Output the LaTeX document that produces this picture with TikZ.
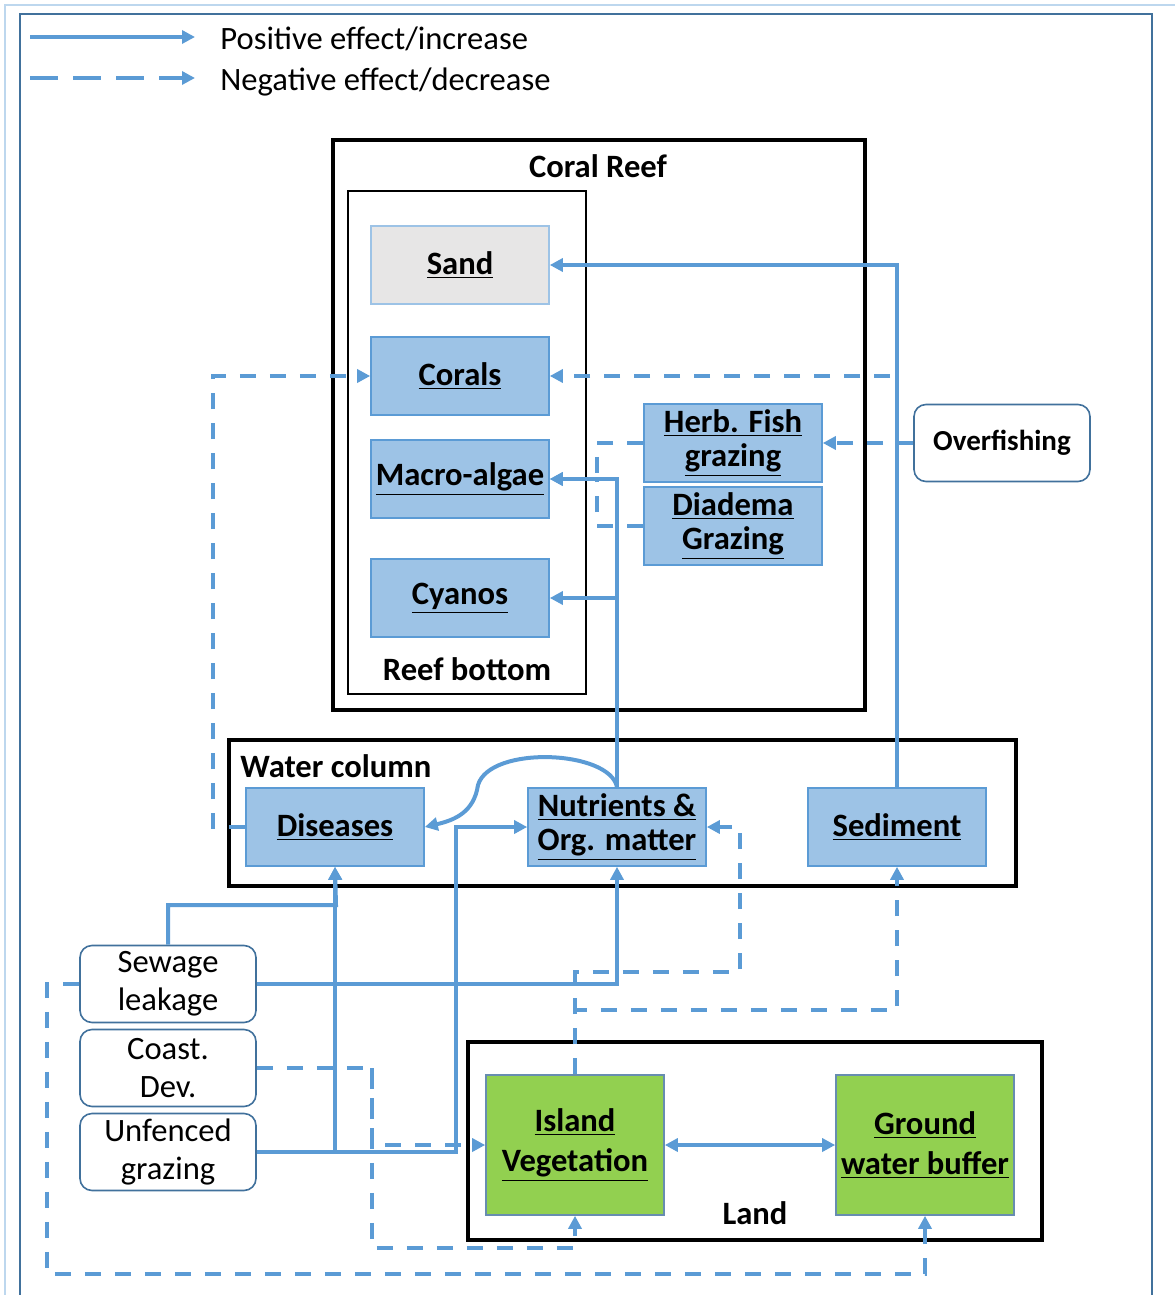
\documentclass[tikz,border=0pt]{standalone}
\usepackage{fontspec}
\setmainfont{Carlito}
\usepackage{xcolor}
\usetikzlibrary{arrows.meta,shapes,calc}

\definecolor{linkblue}{HTML}{5B9BD5}
\definecolor{boxblue}{HTML}{9DC3E6}
\definecolor{landgreen}{HTML}{92D050}
\definecolor{sandgray}{HTML}{E7E6E6}
\definecolor{framedark}{HTML}{41719C}
\definecolor{framelight}{HTML}{BDD7EE}

\tikzset{
	posarrow/.style={draw=linkblue, line width=2pt, -{Triangle[length=6.5pt,width=6.5pt]}},
	negarrow/.style={posarrow, dash pattern=on 8pt off 7pt},
	legneg/.style={posarrow, dash pattern=on 14pt off 7.5pt},
	region/.style={draw=black, line width=2pt},
	compbox/.style={draw=linkblue, fill=boxblue, line width=0.8pt, inner sep=0pt,
		minimum width=89pt, minimum height=39pt, align=center,
		font=\fontsize{16.3}{17}\selectfont\bfseries},
	sandbox/.style={compbox, fill=sandgray, draw=boxblue},
	landbox/.style={compbox, fill=landgreen, draw=framedark!80, minimum height=70pt,
		font=\fontsize{16.3}{20}\selectfont\bfseries},
	driverbox/.style={draw=framedark, fill=white, line width=0.8pt, rounded corners=6pt,
		inner sep=0pt, minimum width=88pt, minimum height=38.5pt, align=center,
		font=\fontsize{16.3}{19}\selectfont},
	regionlabel/.style={inner sep=0pt, font=\fontsize{16.3}{19}\selectfont\bfseries},
	legendtext/.style={inner sep=0pt, anchor=west, font=\fontsize{16.3}{19}\selectfont}
}

\begin{document}
\begin{tikzpicture}[x=0.5pt, y=-0.5pt]

		% === page bounds / frame ===
		\useasboundingbox (0,0) rectangle (1175,1295);
		\draw[framelight, line width=1.2pt] (5,1295) -- (5,5) -- (1175,5);
		\draw[framedark, line width=1pt] (20,1295) -- (20,14) -- (1152,14) -- (1152,1295);

		% === Legend ===
		\coordinate (posA) at (30,37);	\coordinate (posB) at (195,37);
		\coordinate (negA) at (30,78);	\coordinate (negB) at (195,78);
		\draw[posarrow] (posA) -- (posB);
		\draw[legneg] (negA) -- (negB);
		\node[legendtext] (postext) at (220,39) {Positive effect/increase};
		\node[legendtext] (negtext) at (220,82) {Negative effect/decrease};

		% === Regions ===
		\draw[region] (333,140) rectangle (865,710);					% coral reef
		\draw[black, line width=1.2pt] (348,191) rectangle (586,694);	% reef bottom
		\draw[region] (229,740) rectangle (1016,886);					% water column
		\draw[region] (468,1042) rectangle (1042,1240);					% land
		\node[regionlabel] (reeflabel) at (598,166) {Coral Reef};
		\node[regionlabel] (bottomlabel) at (467,669) {Reef bottom};
		\node[regionlabel, anchor=west] (waterlabel) at (240,766) {Water column};
		\node[regionlabel] (landlabel) at (755,1213) {Land};

		% === Reef bottom components ===
		\node[sandbox] (sand) at (460,265) {\underline{Sand}};
		\node[compbox] (corals) at (460,376) {\underline{Corals}};
		\node[compbox] (macro) at (460,479) {\underline{Macro-algae}};
		\node[compbox] (cyanos) at (460,598) {\underline{Cyanos}};

		% === Grazers ===
		\node[compbox] (herb) at (733,443) {\underline{Herb. Fish}\\\underline{grazing}};
		\node[compbox] (diadema) at (733,526) {\underline{Diadema}\\\underline{Grazing}};

		% === Water column components ===
		\node[compbox] (diseases) at (335,827) {\underline{Diseases}};
		\node[compbox] (nutrients) at (617,827) {\underline{Nutrients \&}\\\underline{Org. matter}};
		\node[compbox] (sediment) at (897,827) {\underline{Sediment}};

		% === Land components ===
		\node[landbox] (veg) at (575,1145) {\underline{Island}\\\underline{Vegetation}};
		\node[landbox] (gw) at (925,1145) {\underline{Ground}\\\underline{water buffer}};

		% === Drivers ===
		\node[driverbox, font=\fontsize{14.5}{17}\selectfont\bfseries] (overfish) at (1002,443) {Overfishing};
		\node[driverbox] (sewage) at (168,984) {Sewage\\leakage};
		\node[driverbox] (coast) at (168,1068) {Coast.\\Dev.};
		\node[driverbox] (unfenced) at (168,1152) {Unfenced\\grazing};

		% === Bend points ===
		\coordinate (grazejoin) at (597,479);
		\coordinate (disbend) at (213,827);
		\coordinate (sewtop) at (336,905);
		\coordinate (nutbend) at (456,827);
		\coordinate (coastdrop) at (372,1248);
		\coordinate (sewdrop) at (47,1274);
		\coordinate (vegnut) at (740,972);
		\coordinate (vegsed) at (897,1010);

		% === Positive effects ===
		\draw[posarrow] (sediment.north) |- (sand.east);
		\draw[posarrow] (nutrients.north) |- (macro.east);
		\draw[posarrow] (nutrients.north |- cyanos.east) -- (cyanos.east);
		\draw[posarrow] (nutrients.north) .. controls (610,750) and (490,745) .. (478,785)
			.. controls (474,812) and (455,820) .. (diseases.east);
		\draw[posarrow] (sewage.north) |- (sewtop) -- (diseases.south);
		\draw[posarrow] (sewage.east) -| (nutrients.south);
		\draw[posarrow] (unfenced.east) -| (diseases.south);
		\draw[posarrow] (unfenced.east) -| (nutbend) -- (nutrients.west);
		\draw[posarrow, {Triangle[length=6.5pt,width=6.5pt]}-{Triangle[length=6.5pt,width=6.5pt]}] (veg.east) -- (gw.west);

		% === Negative effects ===
		\draw[negarrow] (overfish.west) -- (herb.east);
		\draw[negarrow] (overfish.west) -- (overfish.west -| sediment.north) |- (corals.east);
		\draw[negarrow] (herb.west) -| (grazejoin) -- (macro.east);
		\draw[negarrow, -] (diadema.west) -| (grazejoin);
		\draw[negarrow] (diseases.west) -- (disbend) |- (corals.west);
		\draw[negarrow] (coast.east) -| (coastdrop) -| (veg.south);
		\draw[negarrow] (coast.east -| coastdrop) |- (veg.west);
		\draw[negarrow] (sewage.west) -| (sewdrop) -| (gw.south);
		\draw[negarrow] (veg.north) |- (vegnut) |- (nutrients.east);
		\draw[negarrow] (veg.north) |- (vegsed) -- (sediment.south);

	\end{tikzpicture}
\end{document}
